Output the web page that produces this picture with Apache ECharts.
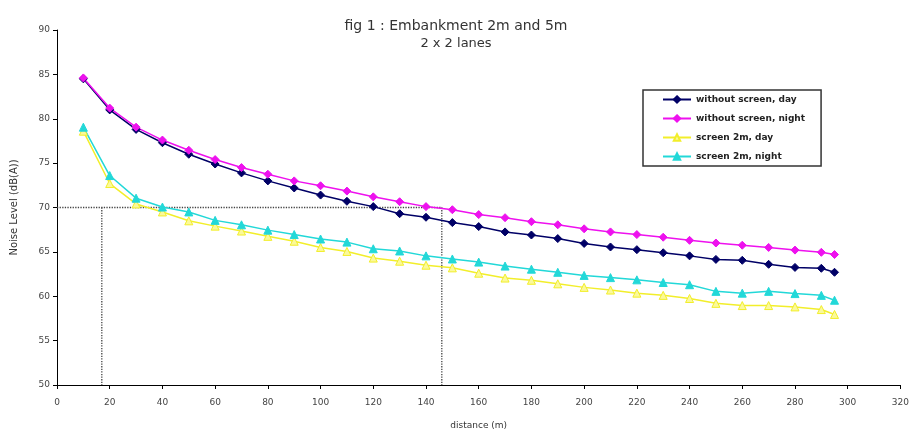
<!DOCTYPE html>
<html>
<head>
<meta charset="utf-8">
<script src="https://cdn.jsdelivr.net/npm/echarts@6/dist/echarts.min.js"></script>
<style>html,body{margin:0;padding:0;background:#fff;overflow:hidden}#c{width:912px;height:435px}</style>
</head>
<body>
<div id="c"></div>
<script>
const distance = [10,20,30,40,50,60,70,80,90,100,110,120,130,140,150,160,170,180,190,200,210,220,230,240,250,260,270,280,290,295];
const noScreenDay = [84.5,81.0,78.8,77.3,76.0,74.9,73.9,73.0,72.2,71.4,70.7,70.1,69.3,68.9,68.3,67.85,67.25,66.9,66.5,65.95,65.55,65.25,64.9,64.55,64.15,64.05,63.6,63.25,63.15,62.7];
const noScreenNight = [84.6,81.2,79.05,77.6,76.45,75.4,74.5,73.75,73.0,72.45,71.85,71.2,70.65,70.1,69.75,69.2,68.85,68.4,68.05,67.6,67.25,66.95,66.65,66.3,66.0,65.75,65.5,65.2,64.95,64.7];
const screenDay = [78.6,72.7,70.4,69.5,68.5,67.9,67.35,66.75,66.2,65.5,65.05,64.3,63.95,63.5,63.2,62.6,62.05,61.8,61.4,61.0,60.7,60.35,60.1,59.75,59.2,58.95,58.95,58.8,58.5,57.95];
const screenNight = [79.05,73.6,71.05,70.05,69.5,68.55,68.05,67.45,66.95,66.45,66.1,65.35,65.1,64.55,64.2,63.85,63.4,63.05,62.7,62.35,62.1,61.85,61.55,61.3,60.55,60.35,60.55,60.3,60.1,59.55];
const seriesNames = ['without screen, day','without screen, night','screen 2m, day','screen 2m, night'];
const limitLevel = 70;
const limitDistances = [17, 146];
const yMin = 50, yMax = 90, xMin = 0, xMax = 320;

const pair = arr => distance.map((d, i) => [d, arr[i]]);
const font = 'DejaVu Sans, Verdana, sans-serif';

const chart = echarts.init(document.getElementById('c'), null, {renderer: 'canvas'});
const dataSeries = [
  {name: seriesNames[0], data: pair(noScreenDay), color: '#000066', symbol: 'diamond', fill: '#000066'},
  {name: seriesNames[1], data: pair(noScreenNight), color: '#ee11ee', symbol: 'diamond', fill: '#ee11ee'},
  {name: seriesNames[2], data: pair(screenDay), color: '#f2ee2a', symbol: 'triangle', fill: '#fbf99a'},
  {name: seriesNames[3], data: pair(screenNight), color: '#22d8d8', symbol: 'triangle', fill: '#22d8d8'}
].map(s => ({
  name: s.name, type: 'line', data: s.data, symbol: s.symbol, symbolSize: 8,
  lineStyle: {color: s.color, width: 1.5},
  itemStyle: {color: s.fill, borderColor: s.color, borderWidth: 1},
  z: 3, animation: false
}));

const refStyle = {type: 'line', symbol: 'none', silent: true, animation: false, z: 2};
chart.setOption({
  backgroundColor: '#fff',
  title: {
    text: 'fig 1 : Embankment 2m and 5m', subtext: '2 x 2 lanes',
    left: 'center', top: 14, itemGap: 4,
    textStyle: {fontFamily: font, fontSize: 14, fontWeight: 'normal', color: '#333'},
    subtextStyle: {fontFamily: font, fontSize: 13, color: '#333'}
  },
  legend: {
    data: seriesNames, orient: 'vertical', left: 643, top: 90,
    padding: [5, 16, 5, 19], itemWidth: 28, itemHeight: 8, itemGap: 10,
    borderColor: '#333', borderWidth: 1.5, backgroundColor: '#fff',
    textStyle: {fontFamily: font, fontSize: 9, fontWeight: 'bold', color: '#222'}
  },
  grid: {left: 57, right: 7, top: 30, bottom: 45, containLabel: false},
  xAxis: {
    type: 'value', min: xMin, max: xMax, interval: 20,
    name: 'distance (m)', nameLocation: 'middle', nameGap: 36,
    nameTextStyle: {fontFamily: font, fontSize: 9, color: '#333'},
    axisLine: {lineStyle: {color: '#000', width: 1}},
    axisTick: {show: true, length: 4, lineStyle: {color: '#000'}},
    axisLabel: {fontFamily: font, fontSize: 9, color: '#444', margin: 13},
    splitLine: {show: false}
  },
  yAxis: {
    type: 'value', min: yMin, max: yMax, interval: 5,
    name: 'Noise Level (dB(A))', nameLocation: 'middle', nameGap: 38,
    nameTextStyle: {fontFamily: font, fontSize: 10, color: '#333'},
    axisLine: {show: true, lineStyle: {color: '#000', width: 1}},
    axisTick: {show: true, length: 4, lineStyle: {color: '#000'}},
    axisLabel: {fontFamily: font, fontSize: 9, color: '#444', margin: 7},
    splitLine: {show: false}
  },
  series: [
    Object.assign({}, refStyle, {name: 'ref1', data: [[xMin, limitLevel], [limitDistances[1], limitLevel], [limitDistances[1], yMin]],
      lineStyle: {color: '#444', width: 1.3, type: 'dotted'}}),
    Object.assign({}, refStyle, {name: 'ref2', data: [[limitDistances[0], limitLevel], [limitDistances[0], yMin]],
      lineStyle: {color: '#444', width: 1.3, type: 'dotted'}}),
    ...dataSeries
  ]
});
</script>
</body>
</html>
